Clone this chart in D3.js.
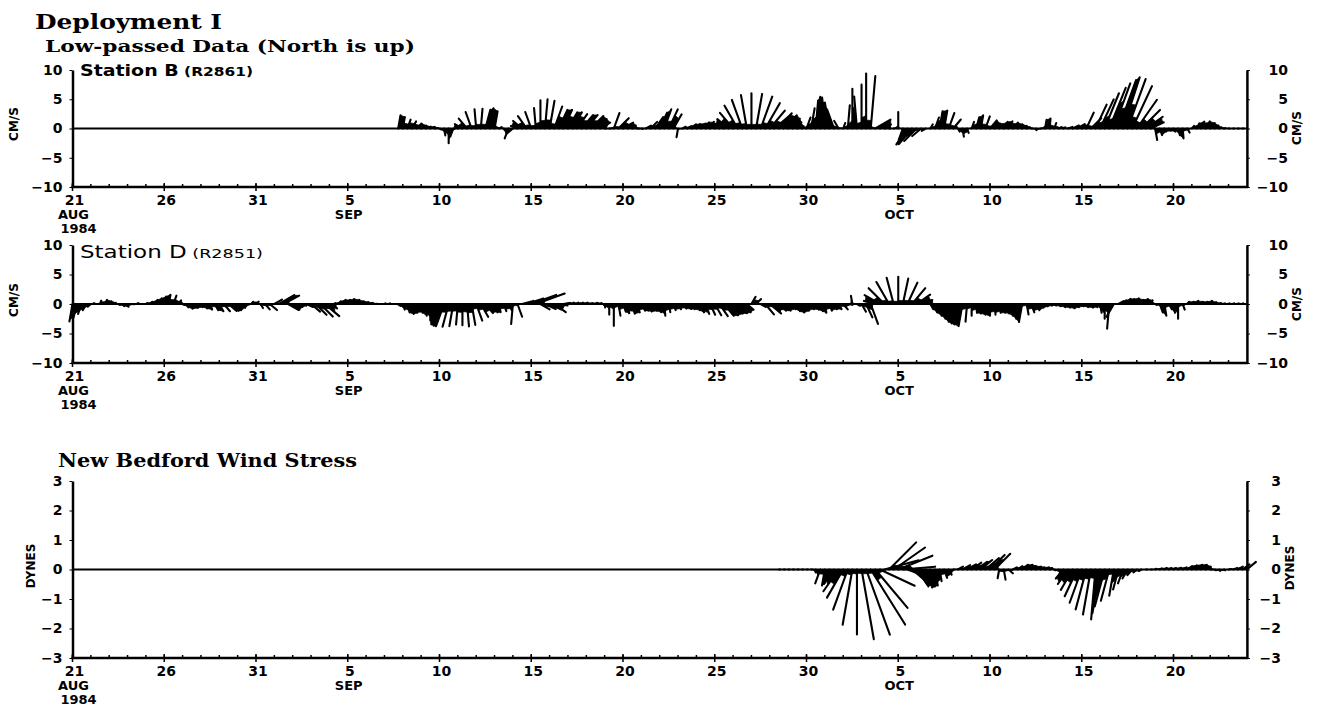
<!DOCTYPE html>
<html>
<head>
<meta charset="utf-8">
<script src="https://cdn.jsdelivr.net/npm/d3@7"></script>
<style>
  body { margin: 0; background: #fff; }
  svg { display: block; }
  text { font-family: "DejaVu Sans", sans-serif; font-weight: bold; fill: #000; }
  .title { font-family: "DejaVu Serif", serif; }
  .light { font-weight: normal; }
</style>
</head>
<body>
<svg id="chart" width="1320" height="723"></svg>
<script>
// ---- data: 6-hourly sticks, speed + direction (degrees toward, clockwise from north)
const stepHours = 6;

// Station B (R2861), cm/s, first stick 1984-09-07 18:00
const stationBStart = "1984-09-07T18:00";
const stationBSpeed = [2.3,
  2.0,1.6,1.4,1.2, 1.0,0.9,0.8,0.5, 0.3,1.2,2.5,1.5, 0.6,1.5,2.2,3.0,   // 18-21
  3.3,3.4,3.3,3.5, 3.0,0.5,0.3,1.8, 1.2,1.2,2.0,2.6, 3.0,3.5,4.8,5.0,   // 22-25
  4.8,4.0,3.5,3.5, 3.2,3.2,3.0,3.0, 3.0,3.0,2.5,2.0, 0.3,0.3,2.8,2.5,   // 26-29
  2.0,1.5,0.8,0.5, 0.3,1.0,1.6,2.4, 3.0,3.5,3.6,2.8, 1.5,0.6,0.8,1.0,   // 30-33
  1.0,1.1,1.2,1.3, 1.2,1.0,1.5,2.5, 3.5,4.5,5.2,5.8, 6.0,6.0,5.8,5.0,   // 34-37
  4.0,3.5,3.4,3.2, 2.6,1.8,1.0,0.5, 2.0,3.5,4.8,5.4, 5.3,4.5,3.5,1.5,   // 38-41
  1.0,4.0,6.8,5.5, 7.5,9.4,9.0,3.0, 2.0,1.0,0.2,0.1, 2.8,2.0,3.3,3.5,   // 42-45
  3.0,2.0,0.8,0.8, 2.0,3.0,3.1,2.8, 2.0,0.6,1.4,0.8, 1.2,2.0,2.3,2.2,   // 46-49
  1.8,1.3,1.0,1.3, 1.4,1.3,1.1,0.9, 0.6,0.3,0.3,0.2, 1.5,1.7,1.0,0.5,   // 50-53
  0.4,0.8,1.2,1.5, 1.0,3.0,2.5,4.5, 5.5,6.5,7.5,8.2, 8.8,9.2,9.0,8.0,   // 54-57
  6.0,4.5,3.5,2.5, 2.0,1.2,0.6,0.5, 0.6,1.2,1.7,0.8, 0.6,1.0,1.3,1.4,   // 58-61
  1.2,0.8,0.4,0.3, 0.2,0.2,0.2,0.2];                                  // 62-63
const stationBDir = [10,
  10,20,30,45, 60,70,70,80, 120,170,180,200, 300,300,320,340,
  355,5,15,10, 10,60,150,200, 230,290,310,325, 340,355,0,5,
  10,20,25,25, 30,30,35,40, 40,45,50,60, 90,90,20,45,
  60,70,80,90, 100,60,45,35, 25,20,25,30, 190,60,60,45,
  40,40,30,30, 40,50,300,310, 320,330,340,350, 0,10,20,30,
  40,50,40,45, 50,55,60,40, 20,10,5,0, 355,350,340,330,
  20,5,0,355, 0,0,5,60, 70,80,90,90, 0,200,215,220,
  225,230,240,30, 20,10,10,20, 40,150,170,160, 20,15,10,20,
  40,50,40,30, 30,40,50,60, 70,90,160,90, 10,5,20,60,
  60,70,65,60, 60,25,45,25, 25,22,22,20, 20,18,20,25,
  35,45,55,65, 170,160,150,140, 150,165,175,150, 40,30,25,30,
  40,50,60,80, 90,90,90,90];

// Station D (R2851), cm/s, first stick 1984-08-21 00:00
const stationDStart = "1984-08-21T00:00";
const stationDSpeed = [
  3.0,2.4,1.8,1.2, 0.7,0.3,0.6,0.8, 0.6,0.4,0.3,0.4, 0.5,0.3,0.3,0.2,   // 0-3
  0.3,0.5,0.8,1.0, 1.3,1.6,1.5,0.8, 0.3,0.6,0.8,0.7, 0.6,0.8,1.0,1.2,   // 4-7
  1.4,1.6,1.8,1.5, 1.2,0.8,0.4,0.5, 0.6,0.8,1.2,1.6, 1.5,3.0,3.0,2.0,   // 8-11
  1.5,1.0,0.8,1.2, 2.0,2.6,3.0,3.2, 1.5,0.3,0.6,0.8, 0.8,0.9,0.8,0.6,   // 12-15
  0.5,0.4,0.3,0.2, 0.2,0.2,0.3,0.5, 1.0,1.5,1.7,1.5, 1.5,2.0,2.8,3.5,   // 16-19
  3.8,4.0,4.0,3.8, 3.5,3.6,3.8,3.6, 3.0,2.5,2.0,1.5, 1.5,1.4,1.3,1.2,   // 20-23
  3.4,2.3,2.0,3.0, 4.5,5.2,1.8,2.0, 2.2,2.4,1.5,0.8, 0.4,0.3,0.3,0.3,   // 24-27
  0.3,0.3,0.4,0.3, 0.6,1.8,3.7,2.0, 1.4,1.6,1.7,1.5, 1.3,1.2,1.3,1.2,   // 28-31
  1.4,2.0,1.4,1.1, 1.0,1.0,1.1,1.0, 1.2,1.5,1.8,2.0, 2.2,2.5,2.6,2.5,   // 32-35
  2.3,2.2,2.0,1.5, 1.4,1.2,1.0,2.3, 2.5,1.5,1.0,1.2, 1.2,1.0,1.3,1.5,   // 36-39
  1.2,1.0,1.1,1.3, 1.5,1.2,1.0,1.0, 1.2,0.8,1.4,0.6, 1.5,2.5,3.6,2.0,   // 40-43
  3.0,3.8,4.3,4.6, 4.6,4.4,4.0,3.5, 2.8,2.0,1.2,1.0, 1.5,2.0,2.5,3.0,   // 44-47
  3.3,3.5,3.8,3.0, 2.0,1.5,1.6,1.8, 2.0,1.8,1.5,1.5, 1.6,2.0,2.5,3.1,   // 48-51
  1.8,1.5,1.2,0.8, 0.6,0.5,0.4,0.5, 0.6,0.7,0.8,0.6, 0.5,0.6,0.7,0.6,   // 52-55
  1.5,2.5,4.2,2.5, 1.0,0.8,1.0,0.9, 1.0,0.8,0.9,0.7, 0.3,1.5,2.0,1.0,   // 56-59
  1.5,2.5,1.0,0.5, 0.5,0.6,0.5,0.5, 0.6,0.4,0.3,0.2, 0.2,0.2,0.2,0.2];  // 60-63
const stationDDir = [
  190,195,200,210, 230,300,20,30, 40,60,120,150, 160,100,60,90,
  60,40,30,20, 15,10,20,40, 120,160,170,160, 150,160,160,150,
  150,140,130,140, 150,140,100,40, 50,150,140,130, 60,60,62,120,
  130,120,110,115, 130,135,135,130, 120,60,40,30, 30,20,30,40,
  50,60,80,90, 60,60,90,130, 160,165,170,175, 170,175,180,190,
  195,200,195,190, 185,180,175,170, 160,150,140,150, 160,170,160,150,
  185,160,75,72, 70,70,120,115, 115,125,100,80, 60,40,40,40,
  40,60,60,60, 170,180,180,170, 160,170,165,160, 150,160,170,165,
  170,175,170,160, 150,140,140,150, 150,160,160,155, 150,145,140,140,
  135,135,135,130, 30,45,120,140, 130,140,150,160, 160,150,160,165,
  160,150,150,160, 170,160,150,150, 140,100,350,120, 150,155,160,285,
  300,315,330,345, 0,12,25,40, 55,70,90,150, 165,170,175,180,
  185,190,190,185, 180,175,180,180, 180,175,170,170, 175,180,185,190,
  170,160,150,140, 130,120,130,140, 150,150,155,150, 140,150,150,150,
  170,180,185,210, 60,40,30,20, 20,30,20,30, 120,160,170,150,
  170,180,160,40, 40,30,40,40, 30,40,60,60, 60,60,60,60];

// New Bedford wind stress, dynes/cm2, first stick 1984-09-28 12:00
const windStart = "1984-09-28T12:00";
const windSpeed = [0.05,0.05,
  0.05,0.05,0.05,0.05, 0.05,0.05,0.1,0.5, 0.55,0.5,0.6,0.9,           // 39-41
  1.1,1.45,1.9,2.2, 2.4,2.35,2.2,1.7, 1.3,1.2,1.3,1.3,                // 42-44
  1.25,1.1,0.8,0.7, 0.7,0.6,0.65,0.6, 0.55,0.4,0.3,0.2,               // 45-47
  0.05,0.2,0.3,0.35, 0.4,0.45,0.5,0.6, 0.7,0.75,0.3,0.35,             // 48-50
  0.2,0.15,0.2,0.25, 0.25,0.2,0.2,0.15, 0.15,0.1,0.05,0.1,            // 51-53
  0.4,0.6,0.8,1.0, 1.2,1.4,1.55,1.7, 1.5,1.3,1.1,0.9,                 // 54-56
  0.7,0.5,0.35,0.25, 0.15,0.1,0.05,0.05, 0.05,0.08,0.1,0.1,           // 57-59
  0.1,0.12,0.15,0.2, 0.22,0.25,0.25,0.2, 0.1,0.05,0.05,0.05,          // 60-62
  0.1,0.15,0.2,0.3, 0.4];                                              // 63-64
const windDir = [90,90,
  90,90,90,90, 90,90,180,200, 190,200,215,215,
  210,200,190,180, 170,160,148,140, 115,75,45,55,
  68,85,110,130, 145,150,160,165, 170,170,160,150,
  90,60,60,60, 55,55,50,50, 45,45,190,170,
  130,60,55,50, 50,55,60,60, 60,60,120,150,
  220,215,210,205, 200,195,190,185, 190,195,195,190,
  195,200,210,220, 230,240,90,90, 60,60,60,60,
  60,60,60,55, 50,50,50,60, 90,120,150,120,
  80,70,60,55, 50];

// axis ticks
const axisStart = "1984-08-21T00:00";
const axisEnd = "1984-10-24T00:00";
const majorTickDates = ["1984-08-21","1984-08-26","1984-08-31","1984-09-05","1984-09-10",
  "1984-09-15","1984-09-20","1984-09-25","1984-09-30","1984-10-05","1984-10-10","1984-10-15","1984-10-20"];
const majorTickDays = ["21","26","31","5","10","15","20","25","30","5","10","15","20"];
const majorTickMonths = ["AUG","","","SEP","","","","","","OCT","","",""];
const currentTicks = [-10, -5, 0, 5, 10];
const stressTicks = [-3, -2, -1, 0, 1, 2, 3];

// ---- drawing
const svg = d3.select("#chart");
const parse = d3.utcParse("%Y-%m-%dT%H:%M");
const parseDay = d3.utcParse("%Y-%m-%d");

const x = d3.scaleUtc()
  .domain([parse(axisStart), parse(axisEnd)])
  .range([72.5, 1246.9]);

svg.append("rect").attr("width", 1320).attr("height", 723).attr("fill", "#fff");

// titles
svg.append("text").attr("class", "title")
  .attr("x", 35).attr("y", 29).style("font-size", "21px")
  .attr("textLength", 187).attr("lengthAdjust", "spacingAndGlyphs")
  .text("Deployment I");
svg.append("text").attr("class", "title")
  .attr("x", 45).attr("y", 52).style("font-size", "17px")
  .attr("textLength", 370).attr("lengthAdjust", "spacingAndGlyphs")
  .text("Low-passed Data (North is up)");

// dark wedge between two neighbouring sticks, out to where they part by more than gap px
function wedge(a, b, gap) {
  const dbx = b.bx - a.bx, dby = b.by - a.by;
  const ex = (b.tx - a.tx) - dbx, ey = (b.ty - a.ty) - dby;
  const c = dbx * dbx + dby * dby - gap * gap;
  if (c > 0) return null;
  const A = ex * ex + ey * ey, B = 2 * (dbx * ex + dby * ey);
  let f = 1;
  if (A > 1e-9) {
    const r = (-B + Math.sqrt(B * B - 4 * A * c)) / (2 * A);
    f = Math.min(1, r);
  }
  if (f <= 0) return null;
  const pa = [a.bx + f * (a.tx - a.bx), a.by + f * (a.ty - a.by)];
  const pb = [b.bx + f * (b.tx - b.bx), b.by + f * (b.ty - b.by)];
  return `M${a.bx},${a.by}L${pa[0]},${pa[1]}L${pb[0]},${pb[1]}L${b.bx},${b.by}Z`;
}

function drawPanel(cfg) {
  const g = svg.append("g");
  const y = d3.scaleLinear()
    .domain([-cfg.max, cfg.max])
    .range([cfg.yBot, cfg.yTop]);
  const k = y(0) - y(1); // pixels per unit, same for east and north

  // zero line
  g.append("line")
    .attr("x1", x.range()[0]).attr("x2", x.range()[1])
    .attr("y1", y(0)).attr("y2", y(0))
    .attr("stroke", "#000").attr("stroke-width", 2.2);

  // sticks
  const t0 = parse(cfg.start);
  const sticks = cfg.speed.map((s, i) => {
    const t = d3.utcHour.offset(t0, i * stepHours);
    const a = cfg.dir[i] * Math.PI / 180;
    const bx = x(t), by = y(0);
    return { bx, by, tx: bx + s * Math.sin(a) * k, ty: by - s * Math.cos(a) * k };
  });

  const wedges = [];
  for (let i = 0; i < sticks.length - 1; i++) {
    const w = wedge(sticks[i], sticks[i + 1], cfg.fillGap);
    if (w) wedges.push(w);
  }
  g.selectAll("path.fill")
    .data(wedges)
    .enter()
    .append("path")
    .attr("class", "fill")
    .attr("d", d => d)
    .attr("fill", "#000")
    .attr("stroke", "#000")
    .attr("stroke-width", 0.8)
    .attr("stroke-linejoin", "round");

  g.selectAll("line.stick")
    .data(sticks)
    .enter()
    .append("line")
    .attr("class", "stick")
    .attr("x1", d => d.bx).attr("y1", d => d.by)
    .attr("x2", d => d.tx).attr("y2", d => d.ty)
    .attr("stroke", "#000")
    .attr("stroke-width", 2.1)
    .attr("stroke-linecap", "round");

  // left axis
  const left = g.append("g")
    .attr("transform", `translate(${x.range()[0]},0)`)
    .call(d3.axisLeft(y).tickValues(cfg.ticks).tickSize(3).tickSizeOuter(0).tickPadding(7).tickFormat(d3.format("d")));
  left.select(".domain").attr("stroke-width", 2.5);
  left.selectAll("text").style("font-size", "14px").style("font-family", "DejaVu Sans").style("font-weight", "bold");

  // right axis, labels placed by hand further out
  const right = g.append("g")
    .attr("transform", `translate(${x.range()[1]},0)`)
    .call(d3.axisRight(y).tickValues(cfg.ticks).tickSize(3).tickSizeOuter(0).tickFormat(""));
  right.select(".domain").attr("stroke-width", 2.5);
  g.selectAll("text.rlab")
    .data(cfg.ticks)
    .enter()
    .append("text")
    .attr("class", "rlab")
    .attr("x", cfg.rightLabelX)
    .attr("y", d => y(d))
    .attr("dy", "0.35em")
    .attr("text-anchor", "end")
    .style("font-size", "14px")
    .text(d3.format("d"));

  // unit labels
  g.append("text")
    .attr("transform", `translate(${cfg.unitLeft[0]},${cfg.unitLeft[1]}) rotate(-90)`)
    .attr("text-anchor", "middle").attr("dy", "0.35em")
    .style("font-size", "12px")
    .text(cfg.unit);
  g.append("text")
    .attr("transform", `translate(${cfg.unitRight[0]},${cfg.unitRight[1]}) rotate(-90)`)
    .attr("text-anchor", "middle").attr("dy", "0.35em")
    .style("font-size", "12px")
    .text(cfg.unit);

  // bottom axis: daily minor ticks, 5-day major ticks
  const yb = cfg.yBot;
  g.append("line")
    .attr("x1", x.range()[0] - 1).attr("x2", x.range()[1] + 1)
    .attr("y1", yb).attr("y2", yb)
    .attr("stroke", "#000").attr("stroke-width", 2.5);
  g.selectAll("line.minor")
    .data(d3.utcDay.range(parse(axisStart), parse(axisEnd)))
    .enter()
    .append("line")
    .attr("class", "minor")
    .attr("x1", d => x(d)).attr("x2", d => x(d))
    .attr("y1", yb).attr("y2", yb - 3)
    .attr("stroke", "#000").attr("stroke-width", 1.5);
  const majors = majorTickDates.map((d, i) => ({ t: parseDay(d), day: majorTickDays[i], mon: majorTickMonths[i] }));
  g.selectAll("line.major")
    .data(majors)
    .enter()
    .append("line")
    .attr("class", "major")
    .attr("x1", d => x(d.t)).attr("x2", d => x(d.t))
    .attr("y1", yb - 4).attr("y2", yb + 4)
    .attr("stroke", "#000").attr("stroke-width", 1.5);
  g.selectAll("text.day")
    .data(majors)
    .enter()
    .append("text")
    .attr("class", "day")
    .attr("x", d => x(d.t) + 2)
    .attr("y", yb + 18)
    .attr("text-anchor", "middle")
    .style("font-size", "14px")
    .text(d => d.day);
  g.selectAll("text.mon")
    .data(majors.filter(d => d.mon))
    .enter()
    .append("text")
    .attr("class", "mon")
    .attr("x", d => x(d.t) + 1)
    .attr("y", yb + 32)
    .attr("text-anchor", "middle")
    .style("font-size", "13px")
    .text(d => d.mon);
  g.append("text")
    .attr("x", x(majors[0].t) + 6)
    .attr("y", yb + 46)
    .attr("text-anchor", "middle")
    .style("font-size", "13px")
    .text("1984");

  // panel heading
  const head = g.append("text")
    .attr("class", cfg.headClass)
    .attr("x", cfg.head[0]).attr("y", cfg.head[1])
    .attr("textLength", cfg.headWidth).attr("lengthAdjust", "spacingAndGlyphs")
    .style("font-size", cfg.headSize + "px");
  head.append("tspan").text(cfg.title);
  if (cfg.sub) head.append("tspan").style("font-size", "13px").text(" " + cfg.sub);
}

drawPanel({
  start: stationBStart, speed: stationBSpeed, dir: stationBDir,
  max: 10, yTop: 70, yBot: 187, ticks: currentTicks, fillGap: 5.3,
  unit: "CM/S", unitLeft: [14, 124], unitRight: [1297, 128], rightLabelX: 1288,
  title: "Station B", sub: "(R2861)", head: [80, 76], headSize: 16, headWidth: 173, headClass: ""
});
drawPanel({
  start: stationDStart, speed: stationDSpeed, dir: stationDDir,
  max: 10, yTop: 245, yBot: 363, ticks: currentTicks, fillGap: 5.3,
  unit: "CM/S", unitLeft: [14, 300], unitRight: [1297, 304], rightLabelX: 1288,
  title: "Station D", sub: "(R2851)", head: [80, 258], headSize: 17, headWidth: 183, headClass: "light"
});
drawPanel({
  start: windStart, speed: windSpeed, dir: windDir,
  max: 3, yTop: 481, yBot: 658, ticks: stressTicks, fillGap: 5.3,
  unit: "DYNES", unitLeft: [31, 566], unitRight: [1290, 568], rightLabelX: 1281,
  title: "New Bedford Wind Stress", sub: null, head: [58, 467], headSize: 19, headWidth: 299, headClass: "title"
});
</script>
</body>
</html>
